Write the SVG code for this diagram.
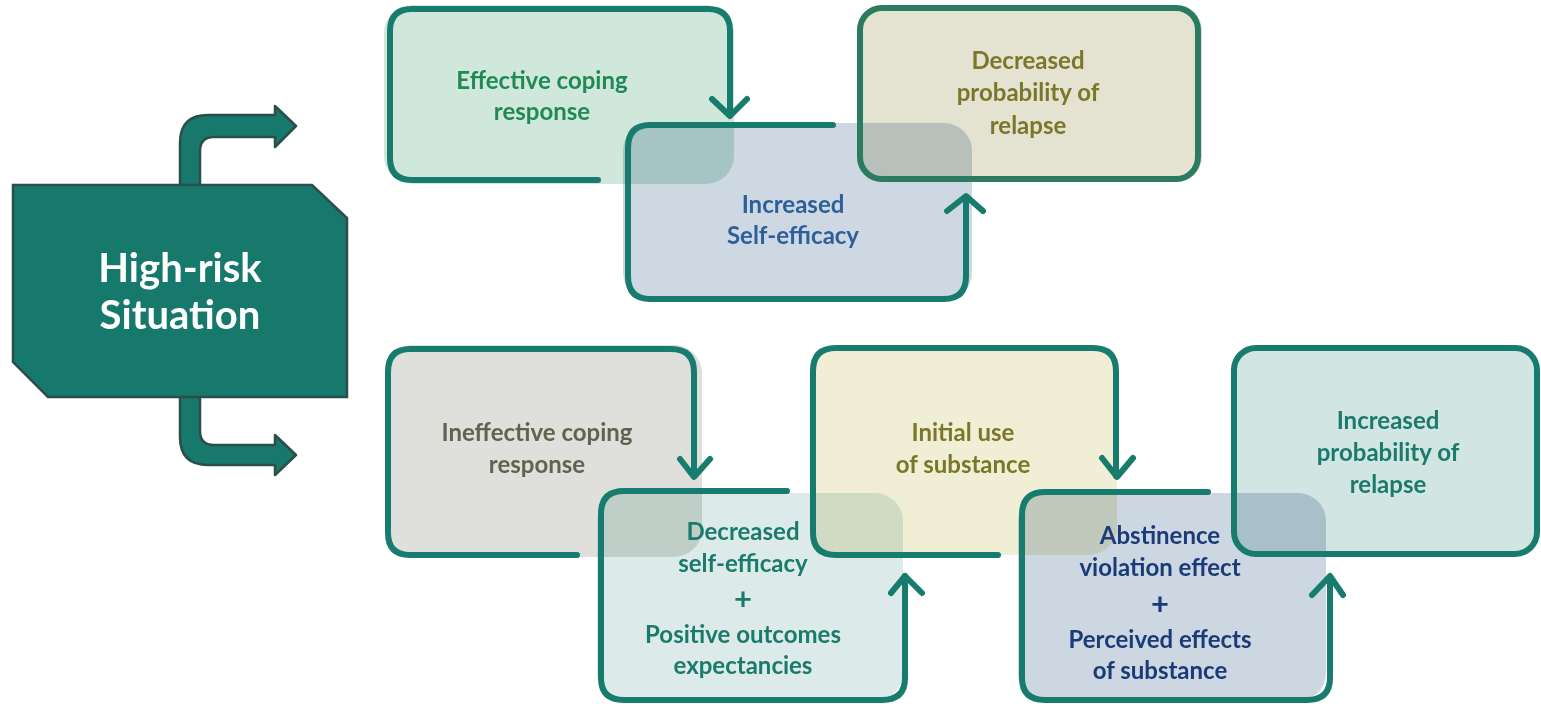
<svg xmlns="http://www.w3.org/2000/svg" width="1541" height="704" viewBox="0 0 1541 704">
<style>
.bf{mix-blend-mode:multiply}
.ol{fill:none;stroke:#177b6d;stroke-width:6;stroke-linecap:round;stroke-linejoin:round}
.t{font-family:Lato,"Liberation Sans",sans-serif;font-weight:bold;font-size:24px;text-anchor:middle}
.pl{font-size:31px}
.big{font-family:Lato,"Liberation Sans",sans-serif;font-weight:bold;font-size:40px;text-anchor:middle;fill:#ffffff}
.ar{fill:#16796c;stroke:#2b4e4b;stroke-width:2.5;stroke-linejoin:round}
</style>
<rect width="1541" height="704" fill="#ffffff"/>
<g id="connectors">
<path class="ar" d="M180,187 L180,143 Q180,115 208,115 L275,115 L275,106 L296,126 L275,147 L275,137 L214,137 Q200,137 200,151 L200,187 Z"/>
<path class="ar" d="M180,395 L180,437 Q180,465 208,465 L275,465 L275,475 L296,455 L275,435 L275,445 L214,445 Q200,445 200,431 L200,395 Z"/>
</g>
<g id="high-risk">
<polygon points="13,185 312,185 347,218 347,397 48,397 13,362" fill="#16796c" stroke="#2b4e4b" stroke-width="2.5"/>
<text class="big" x="180" y="282">High-risk</text>
<text class="big" x="180" y="329">Situation</text>
</g>
<g id="effective-coping">
<rect class="bf" x="384" y="5" width="350" height="179" rx="28" fill="#d0e8dc"/>
<path class="ol" d="M598,180 L412,180 Q390,180 390,158 L390,31 Q390,9 412,9 L708,9 Q730,9 730,31 L730,114"/>
<path class="ol" d="M712,99 L730,116 L747,99"/>
<text class="t" fill="#1f8a55" x="542" y="89">Effective coping</text>
<text class="t" fill="#1f8a55" x="542" y="120">response</text>
</g>
<g id="increased-self-efficacy">
<rect class="bf" x="623" y="123" width="349" height="178" rx="28" fill="#cdd8e3"/>
<path class="ol" d="M833,125 L650,125 Q628,125 628,148 L628,276 Q628,299 650,299 L944,299 Q966,299 966,276 L966,198"/>
<path class="ol" d="M947,211 L966,196 L983,211"/>
<text class="t" fill="#2d5f9a" x="793" y="213">Increased</text>
<text class="t" fill="#2d5f9a" x="793" y="244">Self-efficacy</text>
</g>
<g id="decreased-probability">
<rect class="bf" x="857" y="5" width="345" height="177" rx="25" fill="#e4e3d2"/>
<rect x="860" y="8" width="338" height="171" rx="22" fill="none" stroke="#2a7b60" stroke-width="6"/>
<text class="t" fill="#7a7828" x="1028" y="69">Decreased</text>
<text class="t" fill="#7a7828" x="1028" y="101">probability of</text>
<text class="t" fill="#7a7828" x="1028" y="134">relapse</text>
</g>
<g id="ineffective-coping">
<rect class="bf" x="385" y="345" width="317" height="212" rx="28" fill="#dfe0db"/>
<path class="ol" d="M577,555 L410,555 Q388,555 388,533 L388,372 Q388,349 410,349 L671,349 Q694,349 694,372 L694,476"/>
<path class="ol" d="M680,459 L694,477 L710,459"/>
<text class="t" fill="#5f6450" x="537" y="441">Ineffective coping</text>
<text class="t" fill="#5f6450" x="537" y="473">response</text>
</g>
<g id="decreased-self-efficacy">
<rect class="bf" x="597" y="493" width="306" height="208" rx="28" fill="#dcebe9"/>
<path class="ol" d="M787,491 L624,491 Q601,491 601,514 L601,678 Q601,700 624,700 L882,700 Q905,700 905,678 L905,576"/>
<path class="ol" d="M891,593 L905,576 L922,593"/>
<text class="t" fill="#1a7a6b" x="743" y="540">Decreased</text>
<text class="t" fill="#1a7a6b" x="743" y="572">self-efficacy</text>
<text class="t pl" fill="#1a7a6b" x="743" y="610">+</text>
<text class="t" fill="#1a7a6b" x="743" y="643">Positive outcomes</text>
<text class="t" fill="#1a7a6b" x="743" y="674">expectancies</text>
</g>
<g id="initial-use">
<rect class="bf" x="810" y="345" width="307" height="210" rx="28" fill="#f0efd6"/>
<path class="ol" d="M998,555 L836,555 Q813,555 813,533 L813,371 Q813,348 836,348 L1093,348 Q1116,348 1116,371 L1116,476"/>
<path class="ol" d="M1102,458 L1117,477 L1133,458"/>
<text class="t" fill="#7a7828" x="963" y="441">Initial use</text>
<text class="t" fill="#7a7828" x="963" y="473">of substance</text>
</g>
<g id="abstinence-violation">
<rect class="bf" x="1018" y="493" width="308" height="208" rx="28" fill="#cdd7e2"/>
<path class="ol" d="M1208,492 L1045,492 Q1022,492 1022,515 L1022,678 Q1022,700 1045,700 L1307,700 Q1330,700 1330,678 L1330,577"/>
<path class="ol" d="M1312,595 L1330,576 L1343,595"/>
<text class="t" fill="#1b3a78" x="1160" y="544">Abstinence</text>
<text class="t" fill="#1b3a78" x="1160" y="576">violation effect</text>
<text class="t pl" fill="#1b3a78" x="1160" y="615">+</text>
<text class="t" fill="#1b3a78" x="1160" y="648">Perceived effects</text>
<text class="t" fill="#1b3a78" x="1160" y="679">of substance</text>
</g>
<g id="increased-probability">
<rect class="bf" x="1231" y="345" width="308" height="212" rx="28" fill="#d1e5e2"/>
<rect x="1234" y="348" width="303" height="206" rx="22" fill="none" stroke="#177b6d" stroke-width="6"/>
<text class="t" fill="#1a7a6b" x="1388" y="429">Increased</text>
<text class="t" fill="#1a7a6b" x="1388" y="461">probability of</text>
<text class="t" fill="#1a7a6b" x="1388" y="493">relapse</text>
</g>
</svg>
